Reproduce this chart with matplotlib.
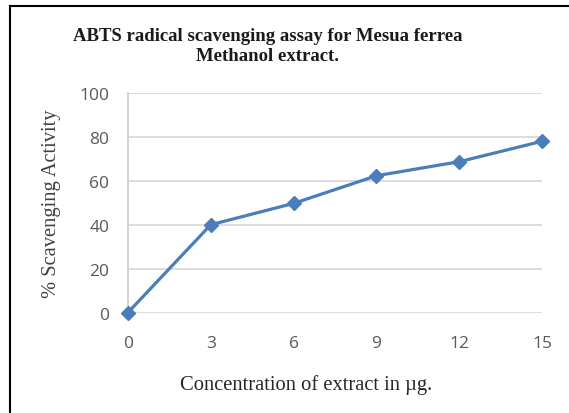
import matplotlib
matplotlib.use("Agg")
import matplotlib.pyplot as plt
from matplotlib.lines import Line2D

concentration = [0, 3, 6, 9, 12, 15]
scavenging = [0, 40.0, 49.7, 62.3, 68.7, 78.0]
x_ticks = [0, 3, 6, 9, 12, 15]
y_ticks = [0, 20, 40, 60, 80, 100]

title = "ABTS radical scavenging assay for Mesua ferrea\nMethanol extract."
xlabel = "Concentration of extract in \u00b5g."
ylabel = "% Scavenging Activity"

fig = plt.figure(figsize=(5.69, 4.14), dpi=100)
ax = fig.add_axes([128/569, 1 - 313.5/414, (542-128)/569, (313.5-94)/414])

ax.plot(concentration, scavenging, color="#4a7ebb", linewidth=2.3,
        marker="D", markersize=7, markerfacecolor="#4a7ebb", markeredgecolor="#4a7ebb",
        clip_on=False, zorder=3)

ax.set_xlim(0, 15)
ax.set_ylim(0, 100)
ax.set_xticks(x_ticks)
ax.set_yticks(y_ticks)
ax.set_xticklabels([str(v) for v in x_ticks])
ax.set_yticklabels([str(v) for v in y_ticks])
ax.grid(axis="y", color="#d9d9d9", linewidth=1.3)
ax.set_axisbelow(True)
for s in ["top", "right", "bottom"]:
    ax.spines[s].set_visible(False)
ax.spines["left"].set_color("#d0d0d0")
ax.spines["left"].set_linewidth(1.3)
ax.tick_params(axis="both", length=0, labelsize=12.5, labelcolor="#595959")
ax.tick_params(axis="x", pad=16)
ax.tick_params(axis="y", pad=13.5)
for lab in ax.get_xticklabels() + ax.get_yticklabels():
    lab.set_family("Open Sans")

ax.set_xlabel(xlabel, family="Liberation Serif", fontsize=14.8, color="#262626", va="center", ha="center")
ax.xaxis.set_label_coords((306.5 - 128) / 414, (313.5 - 385) / 219.5)
ax.set_ylabel(ylabel, family="Liberation Serif", fontsize=14.8, color="#404040", va="center", ha="center")
ax.yaxis.set_label_coords((52 - 128) / 414, 0.5)

fig.text(268 / 569, 1 - 46.5/414, title, ha="center", va="center",
         family="Liberation Serif", fontweight="bold", fontsize=13.5, color="#1a1a1a",
         linespacing=1.3)

# partial frame (left and top border of the original image)
fig.add_artist(Line2D([10/569, 10/569], [0, 1 - 7/414], transform=fig.transFigure, color="black", linewidth=1.5))
fig.add_artist(Line2D([10/569, 1], [1 - 7/414, 1 - 7/414], transform=fig.transFigure, color="black", linewidth=1.5))

fig.savefig("out.png", dpi=100)
